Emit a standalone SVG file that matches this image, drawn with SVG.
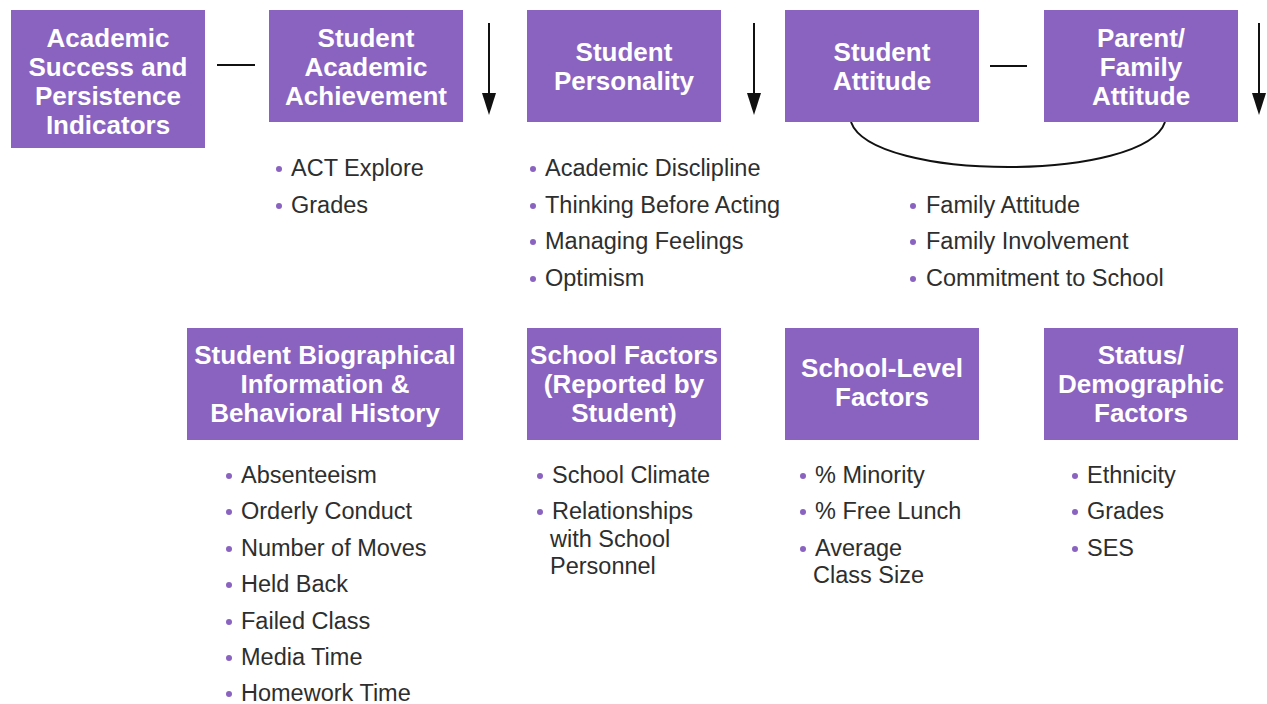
<svg xmlns="http://www.w3.org/2000/svg" width="1267" height="704" viewBox="0 0 1267 704">
  <style>
    .box { fill: #8a63c1; }
    .hd { font-family: "Liberation Sans", Arial, sans-serif; font-weight: bold; font-size: 26px; fill: #ffffff; text-anchor: middle; }
    .it { font-family: "Liberation Sans", Arial, sans-serif; font-size: 23.5px; fill: #2e2e2e; }
    .dot { fill: #8a63c1; }
    .ln { stroke: #111111; stroke-width: 2; fill: none; }
    .head { fill: #111111; }
  </style>

  <rect width="1267" height="704" fill="#ffffff"/>

  <!-- connectors -->
  <g id="connectors">
    <line class="ln" x1="217" y1="65" x2="255" y2="65"/>
    <line class="ln" x1="990" y1="66" x2="1027" y2="66"/>
    <line class="ln" x1="489" y1="23" x2="489" y2="98"/>
    <path class="head" d="M482,93 L496,93 L489,115 Z"/>
    <line class="ln" x1="754" y1="23" x2="754" y2="98"/>
    <path class="head" d="M747,93 L761,93 L754,115 Z"/>
    <line class="ln" x1="1259" y1="23" x2="1259" y2="98"/>
    <path class="head" d="M1252,93 L1266,93 L1259,115 Z"/>
    <path class="ln" d="M851,122 C872,182 1145,182 1165,122"/>
  </g>

  <!-- top row -->
  <g id="academic-success">
    <rect class="box" x="11" y="10" width="194" height="138"/>
    <text class="hd" x="108" y="47">Academic</text>
    <text class="hd" x="108" y="76">Success and</text>
    <text class="hd" x="108" y="105">Persistence</text>
    <text class="hd" x="108" y="134">Indicators</text>
  </g>

  <g id="student-achievement">
    <rect class="box" x="269" y="10" width="194" height="112"/>
    <text class="hd" x="366" y="47">Student</text>
    <text class="hd" x="366" y="76">Academic</text>
    <text class="hd" x="366" y="105">Achievement</text>
    <circle class="dot" cx="279" cy="169" r="3"/>
    <text class="it" x="291" y="176">ACT Explore</text>
    <circle class="dot" cx="279" cy="206" r="3"/>
    <text class="it" x="291" y="213">Grades</text>
  </g>

  <g id="student-personality">
    <rect class="box" x="527" y="10" width="194" height="112"/>
    <text class="hd" x="624" y="61">Student</text>
    <text class="hd" x="624" y="90">Personality</text>
    <circle class="dot" cx="533" cy="169" r="3"/>
    <text class="it" x="545" y="176">Academic Disclipline</text>
    <circle class="dot" cx="533" cy="206" r="3"/>
    <text class="it" x="545" y="213">Thinking Before Acting</text>
    <circle class="dot" cx="533" cy="242" r="3"/>
    <text class="it" x="545" y="249">Managing Feelings</text>
    <circle class="dot" cx="533" cy="279" r="3"/>
    <text class="it" x="545" y="286">Optimism</text>
  </g>

  <g id="student-attitude">
    <rect class="box" x="785" y="10" width="194" height="112"/>
    <text class="hd" x="882" y="61">Student</text>
    <text class="hd" x="882" y="90">Attitude</text>
  </g>

  <g id="family-attitude">
    <rect class="box" x="1044" y="10" width="194" height="112"/>
    <text class="hd" x="1141" y="47">Parent/</text>
    <text class="hd" x="1141" y="76">Family</text>
    <text class="hd" x="1141" y="105">Attitude</text>
    <circle class="dot" cx="913" cy="206" r="3"/>
    <text class="it" x="926" y="213">Family Attitude</text>
    <circle class="dot" cx="913" cy="242" r="3"/>
    <text class="it" x="926" y="249">Family Involvement</text>
    <circle class="dot" cx="913" cy="279" r="3"/>
    <text class="it" x="926" y="286">Commitment to School</text>
  </g>

  <!-- bottom row -->
  <g id="biographical">
    <rect class="box" x="187" y="328" width="276" height="112"/>
    <text class="hd" x="325" y="364">Student Biographical</text>
    <text class="hd" x="325" y="393">Information &amp;</text>
    <text class="hd" x="325" y="422">Behavioral History</text>
    <circle class="dot" cx="229" cy="476" r="3"/>
    <text class="it" x="241" y="483">Absenteeism</text>
    <circle class="dot" cx="229" cy="512" r="3"/>
    <text class="it" x="241" y="519">Orderly Conduct</text>
    <circle class="dot" cx="229" cy="549" r="3"/>
    <text class="it" x="241" y="556">Number of Moves</text>
    <circle class="dot" cx="229" cy="585" r="3"/>
    <text class="it" x="241" y="592">Held Back</text>
    <circle class="dot" cx="229" cy="622" r="3"/>
    <text class="it" x="241" y="629">Failed Class</text>
    <circle class="dot" cx="229" cy="658" r="3"/>
    <text class="it" x="241" y="665">Media Time</text>
    <circle class="dot" cx="229" cy="694" r="3"/>
    <text class="it" x="241" y="701">Homework Time</text>
  </g>

  <g id="school-factors">
    <rect class="box" x="527" y="328" width="194" height="112"/>
    <text class="hd" x="624" y="364">School Factors</text>
    <text class="hd" x="624" y="393">(Reported by</text>
    <text class="hd" x="624" y="422">Student)</text>
    <circle class="dot" cx="540" cy="476" r="3"/>
    <text class="it" x="552" y="483">School Climate</text>
    <circle class="dot" cx="540" cy="512" r="3"/>
    <text class="it" x="552" y="519">Relationships</text>
    <text class="it" x="550" y="547">with School</text>
    <text class="it" x="550" y="574">Personnel</text>
  </g>

  <g id="school-level">
    <rect class="box" x="785" y="328" width="194" height="112"/>
    <text class="hd" x="882" y="377">School-Level</text>
    <text class="hd" x="882" y="406">Factors</text>
    <circle class="dot" cx="803" cy="476" r="3"/>
    <text class="it" x="815" y="483">% Minority</text>
    <circle class="dot" cx="803" cy="512" r="3"/>
    <text class="it" x="815" y="519">% Free Lunch</text>
    <circle class="dot" cx="803" cy="549" r="3"/>
    <text class="it" x="815" y="556">Average</text>
    <text class="it" x="813" y="583">Class Size</text>
  </g>

  <g id="demographic">
    <rect class="box" x="1044" y="328" width="194" height="112"/>
    <text class="hd" x="1141" y="364">Status/</text>
    <text class="hd" x="1141" y="393">Demographic</text>
    <text class="hd" x="1141" y="422">Factors</text>
    <circle class="dot" cx="1075" cy="476" r="3"/>
    <text class="it" x="1087" y="483">Ethnicity</text>
    <circle class="dot" cx="1075" cy="512" r="3"/>
    <text class="it" x="1087" y="519">Grades</text>
    <circle class="dot" cx="1075" cy="549" r="3"/>
    <text class="it" x="1087" y="556">SES</text>
  </g>
</svg>
